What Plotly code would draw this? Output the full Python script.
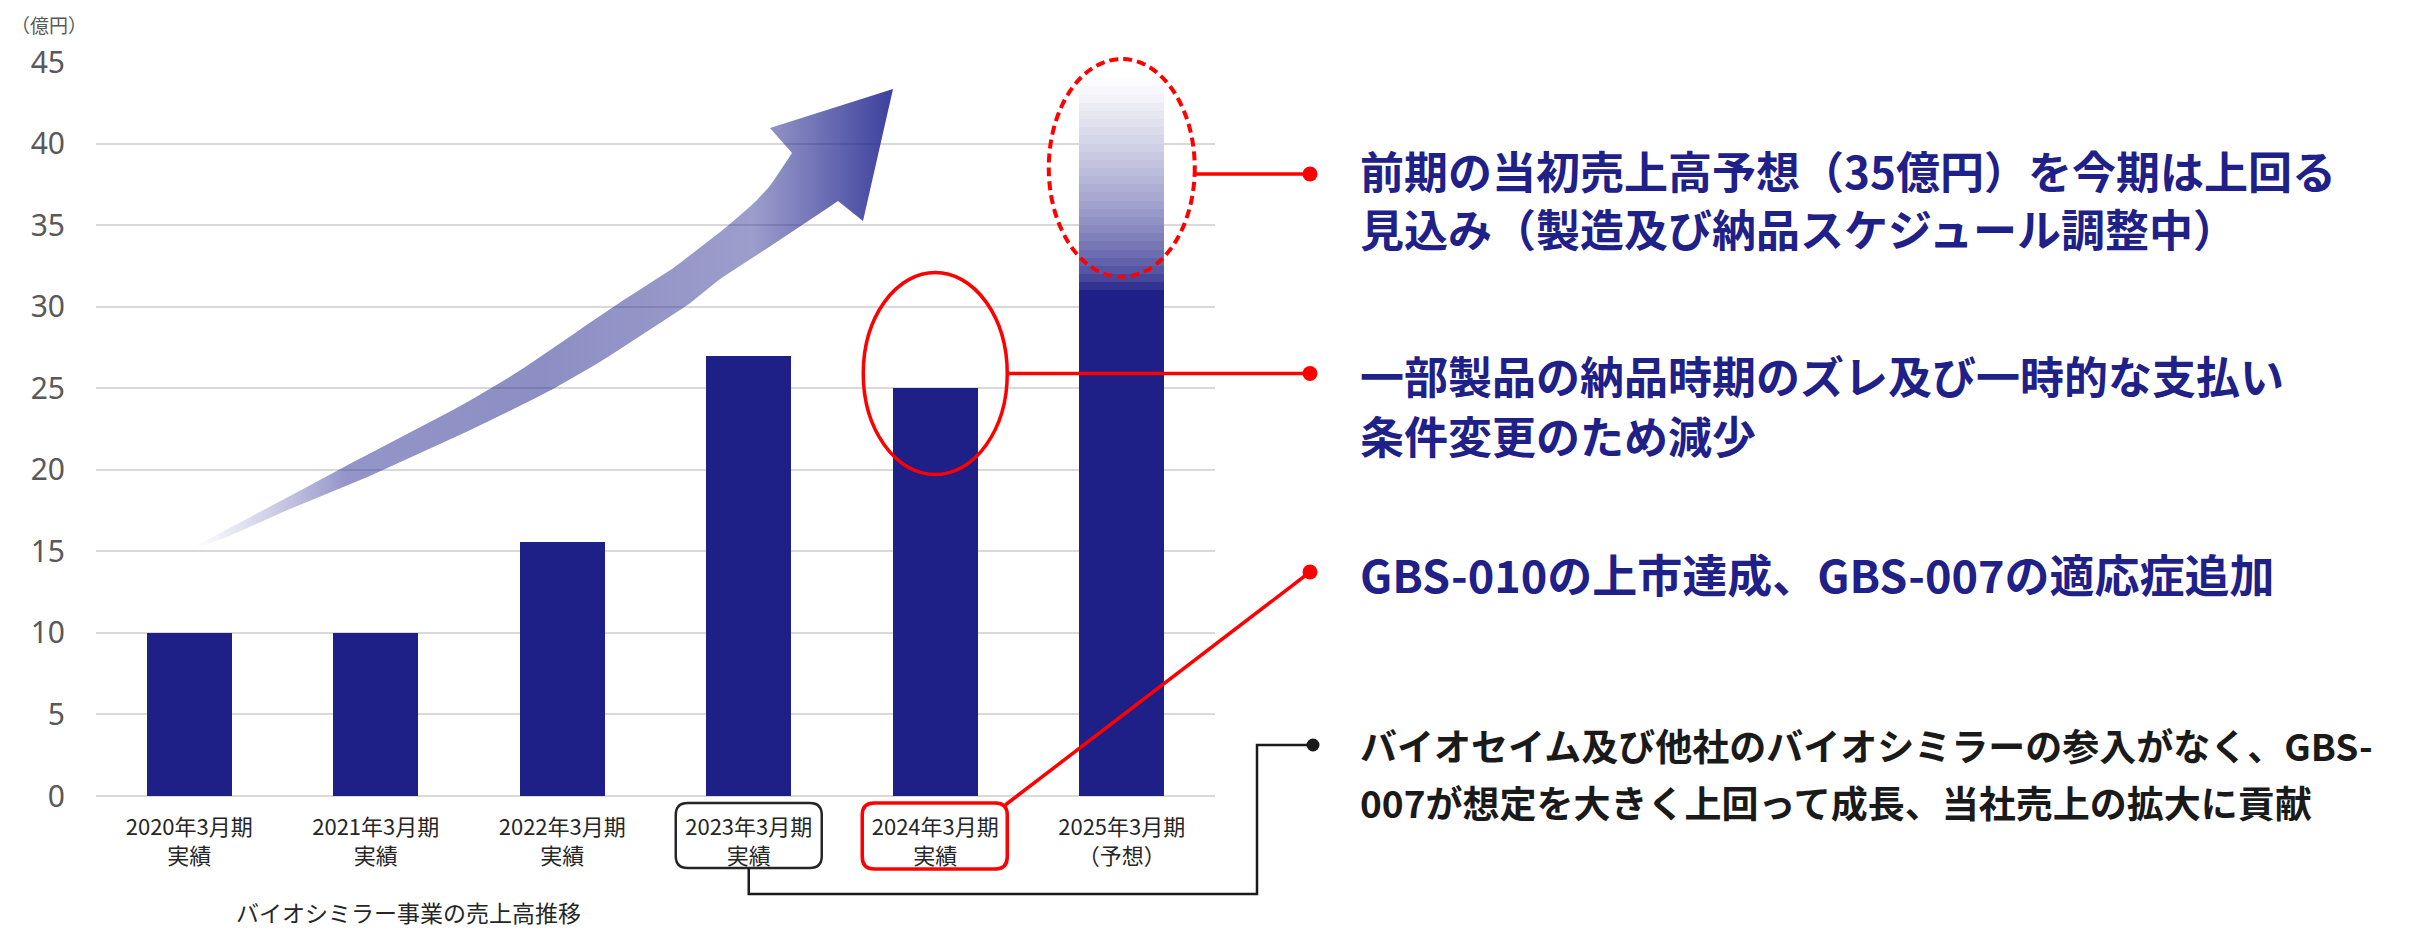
import plotly.graph_objects as go
import numpy as np

# ---------------- data ----------------
categories = ["2020年3月期<br>実績", "2021年3月期<br>実績", "2022年3月期<br>実績",
              "2023年3月期<br>実績", "2024年3月期<br>実績", "2025年3月期<br>（予想）"]
sales_solid = [10, 10, 15.6, 27, 25, 31]      # 2025: solid part of the forecast bar
forecast_fade_top = 44                          # 2025 forecast bar fades out up to here
y_tick_values = [0, 5, 10, 15, 20, 25, 30, 35, 40, 45]
unit_label = "（億円）"
chart_title = "バイオシミラー事業の売上高推移"
note1_lines = ["前期の当初売上高予想（35億円）を今期は上回る", "見込み（製造及び納品スケジュール調整中）"]
note2_lines = ["一部製品の納品時期のズレ及び一時的な支払い", "条件変更のため減少"]
note3_lines = ["GBS-010の上市達成、GBS-007の適応症追加"]
note4_lines = ["バイオセイム及び他社のバイオシミラーの参入がなく、GBS-", "007が想定を大きく上回って成長、当社売上の拡大に貢献"]

# ---------------- layout geometry ----------------
W, H = 2428, 931
OFF = 8                      # page body margin of the html page
PL, PR, PT, PB = 96, 1215, 62, 796
YMAX = 45
NAVY = "#1e1f87"
RED = "#ff0000"
FONT = "Noto Sans CJK JP"
BAR_W = 0.455


def fx(px):
    return (px - PL) / (PR - PL)


def fy(py):
    return (PB - py) / (PB - PT)


def cat_px(i):
    return PL + (i + 0.5) * (PR - PL) / len(categories)


def val_py(v):
    return PB - v * (PB - PT) / YMAX


def catmull(pts, n=8):
    pts = np.asarray(pts, float)
    P = np.vstack([pts[0] * 2 - pts[1], pts, pts[-1] * 2 - pts[-2]])
    out = []
    for i in range(1, len(P) - 2):
        p0, p1, p2, p3 = P[i - 1], P[i], P[i + 1], P[i + 2]
        for t in np.linspace(0, 1, n, endpoint=False):
            out.append(0.5 * ((2 * p1) + (-p0 + p2) * t + (2 * p0 - 5 * p1 + 4 * p2 - p3) * t ** 2
                              + (-p0 + 3 * p1 - 3 * p2 + p3) * t ** 3))
    out.append(pts[-1])
    return [tuple(p) for p in out]


fig = go.Figure()

# decorative growth arrow (pixel-space overlay axes)
upper = catmull([(192, 548), (213, 537), (277, 503), (338, 470), (490, 389), (613, 307),
                 (680, 263), (757, 200), (792, 153)])
head = [(770, 128), (893, 89), (863, 221)]
lower = catmull([(838, 201), (780, 240), (723, 277), (680, 310), (553, 389), (383, 470),
                 (303, 503), (227, 537), (192, 548)])
poly = upper + head + lower
fig.add_trace(go.Scatter(
    x=[p[0] for p in poly], y=[p[1] for p in poly], xaxis="x2", yaxis="y2",
    mode="lines", line=dict(width=0), fill="toself", hoverinfo="skip",
    fillgradient=dict(type="horizontal", colorscale=[
        [0.0, "rgba(90,90,170,0.0)"], [0.08, "rgba(70,70,160,0.18)"],
        [0.22, "rgba(40,42,145,0.5)"], [0.5, "rgba(35,38,140,0.52)"],
        [0.8, "rgba(35,38,140,0.45)"], [0.9, "rgba(30,34,140,0.65)"],
        [1.0, "rgba(25,30,140,0.85)"]]),
    showlegend=False))

# main bars
fig.add_trace(go.Bar(x=categories, y=sales_solid, width=BAR_W, marker=dict(color=NAVY, line=dict(width=0)),
                     showlegend=False, hoverinfo="skip"))

# fading top of the forecast bar
nseg = 26
start = sales_solid[-1]
edges = np.linspace(start, forecast_fade_top, nseg + 1)
navy_rgb = np.array([30, 31, 135])
for a, b in zip(edges[:-1], edges[1:]):
    t = ((0.5 * (a + b) - start) / (forecast_fade_top - start)) ** 0.6
    c = (1 - t) * navy_rgb + t * np.array([255, 255, 255])
    fig.add_trace(go.Bar(x=[categories[-1]], y=[b - a + 0.02], base=[a], width=BAR_W,
                         marker=dict(color="rgb(%d,%d,%d)" % tuple(c.round()), line=dict(width=0)),
                         showlegend=False, hoverinfo="skip"))

shapes = []
# dashed ellipse around forecast top
e1c = (cat_px(5), val_py(38.5)); e1r = (73, 109)
shapes.append(dict(type="circle", xref="paper", yref="paper",
                   x0=fx(e1c[0] - e1r[0]), x1=fx(e1c[0] + e1r[0]),
                   y0=fy(e1c[1] + e1r[1]), y1=fy(e1c[1] - e1r[1]),
                   line=dict(color=RED, width=4, dash="9px,5px")))
# solid ellipse around 2024 bar top
e2c = (cat_px(4), val_py(25.9)); e2r = (72, 101)
shapes.append(dict(type="circle", xref="paper", yref="paper",
                   x0=fx(e2c[0] - e2r[0]), x1=fx(e2c[0] + e2r[0]),
                   y0=fy(e2c[1] + e2r[1]), y1=fy(e2c[1] - e2r[1]),
                   line=dict(color=RED, width=3.5)))

DOT_X = 1310
TEXT_X = 1358


def seg(p1, p2, color, width):
    return dict(type="line", xref="paper", yref="paper", x0=fx(p1[0]), y0=fy(p1[1]),
                x1=fx(p2[0]), y1=fy(p2[1]), line=dict(color=color, width=width))


def dot(px, py, color, r=7.5):
    return dict(type="circle", xref="paper", yref="paper", xsizemode="pixel", ysizemode="pixel",
                xanchor=fx(px), yanchor=fy(py), x0=-r, x1=r, y0=-r, y1=r,
                fillcolor=color, line=dict(color=color, width=0))


def rounded_rect(x0, y0, x1, y1, r):
    return (f"M {fx(x0 + r)},{fy(y0)} L {fx(x1 - r)},{fy(y0)} Q {fx(x1)},{fy(y0)} {fx(x1)},{fy(y0 + r)} "
            f"L {fx(x1)},{fy(y1 - r)} Q {fx(x1)},{fy(y1)} {fx(x1 - r)},{fy(y1)} "
            f"L {fx(x0 + r)},{fy(y1)} Q {fx(x0)},{fy(y1)} {fx(x0)},{fy(y1 - r)} "
            f"L {fx(x0)},{fy(y0 + r)} Q {fx(x0)},{fy(y0)} {fx(x0 + r)},{fy(y0)} Z")


y1_line = 174
shapes.append(seg((e1c[0] + e1r[0], y1_line), (DOT_X, y1_line), RED, 3.5))
shapes.append(dot(DOT_X, y1_line, RED))
shapes.append(seg((e2c[0] + e2r[0], e2c[1]), (DOT_X, e2c[1]), RED, 3.5))
shapes.append(dot(DOT_X, e2c[1], RED))

# label boxes
b23 = (cat_px(3) - 73, 803, cat_px(3) + 73, 868)
b24 = (cat_px(4) - 73, 803, cat_px(4) + 72, 869)
shapes.append(dict(type="path", xref="paper", yref="paper", path=rounded_rect(*b23, 12),
                   line=dict(color="#262626", width=2.5)))
shapes.append(dict(type="path", xref="paper", yref="paper", path=rounded_rect(*b24, 12),
                   line=dict(color=RED, width=3.5)))

# red line from 2024 box to note 3
shapes.append(seg((b24[2] - 2, b24[1] + 2), (DOT_X, 572), RED, 3.5))
shapes.append(dot(DOT_X, 572, RED))

# black connector from 2023 box to note 4
cx = cat_px(3)
path = (f"M {fx(cx)},{fy(868)} L {fx(cx)},{fy(894)} L {fx(1257)},{fy(894)} "
        f"L {fx(1257)},{fy(745)} L {fx(DOT_X)},{fy(745)}")
shapes.append(dict(type="path", xref="paper", yref="paper", path=path,
                   line=dict(color="#1a1a1a", width=2.5)))
shapes.append(dot(DOT_X + 3, 745, "#1a1a1a", 6.5))

annotations = []


def note(lines, ys, color, size):
    for line, y in zip(lines, ys):
        annotations.append(dict(text="<b>" + line + "</b>", xref="paper", yref="paper",
                                x=fx(TEXT_X), y=fy(y), xanchor="left", yanchor="middle",
                                showarrow=False, font=dict(family=FONT, size=size, color=color)))


note(note1_lines, [170, 228], "#1f2088", 44)
note(note2_lines, [375, 435], "#1f2088", 44)
note(note3_lines, [573], "#1f2088", 45)
note(note4_lines, [745, 802], "#1a1a1a", 37)

annotations.append(dict(text=unit_label, xref="paper", yref="paper", x=fx(10), y=fy(24),
                        xanchor="left", yanchor="middle", showarrow=False, borderpad=0,
                        font=dict(family=FONT, size=19, color="#595959")))
annotations.append(dict(text=chart_title, xref="paper", yref="paper", x=fx(408), y=fy(912),
                        xanchor="center", yanchor="middle", showarrow=False, borderpad=0,
                        font=dict(family=FONT, size=23, color="#262626")))

fig.update_layout(
    width=W - OFF, height=H - OFF, autosize=False,
    margin=dict(l=PL - OFF, r=W - PR, t=PT - OFF, b=H - PB, pad=0),
    paper_bgcolor="white", plot_bgcolor="white",
    barmode="overlay", bargap=0,
    xaxis=dict(type="category", range=[-0.5, len(categories) - 0.5], showgrid=False, zeroline=False,
               showline=False, ticks="", ticklabelstandoff=16,
               tickfont=dict(family=FONT, size=22, color="#262626")),
    yaxis=dict(range=[0, YMAX], tickvals=y_tick_values, showgrid=True, gridcolor="#d9d9d9", gridwidth=2,
               zeroline=True, zerolinecolor="#d9d9d9", zerolinewidth=2, showline=False, ticks="",
               ticklabelstandoff=30, tickfont=dict(family="Noto Sans", size=30, color="#595959")),
    xaxis2=dict(overlaying="x", range=[PL, PR], visible=False, anchor="y2"),
    yaxis2=dict(overlaying="y", range=[PB, PT], visible=False, anchor="x2"),
    shapes=shapes, annotations=annotations,
)

fig.write_html("out.html")
